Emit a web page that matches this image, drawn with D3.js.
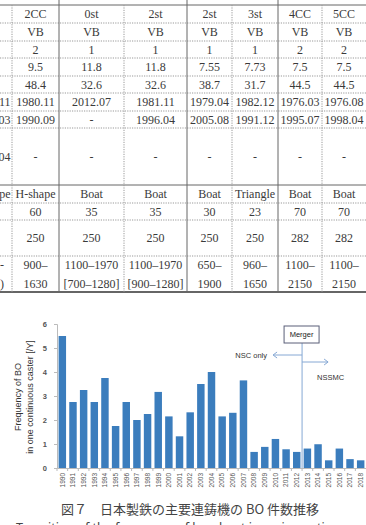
<!DOCTYPE html>
<html>
<head>
    <meta charset="utf-8" />
    <title>BO frequency</title>
    <style>
        body { margin: 0; background: #fff; }
        svg { display: block; }
    </style>
    <script src="https://cdn.jsdelivr.net/npm/d3@7"></script>
</head>
<body>
    <div id="svg"></div>

    <script type="text/javascript">
        // table (cropped page scan above the chart); left column only shows its last characters
        var tableLeftCol = ['', '', '', '', '', '11', '03', '04', 'pe', '', '', ['-', ')']];
        var tableRows = [
            ['2CC', '0st', '2st', '2st', '3st', '4CC', '5CC'],
            ['VB', 'VB', 'VB', 'VB', 'VB', 'VB', 'VB'],
            ['2', '1', '1', '1', '1', '2', '2'],
            ['9.5', '11.8', '11.8', '7.55', '7.73', '7.5', '7.5'],
            ['48.4', '32.6', '32.6', '38.7', '31.7', '44.5', '44.5'],
            ['1980.11', '2012.07', '1981.11', '1979.04', '1982.12', '1976.03', '1976.08'],
            ['1990.09', '-', '1996.04', '2005.08', '1991.12', '1995.07', '1998.04'],
            ['-', '-', '-', '-', '-', '-', '-'],
            ['H-shape', 'Boat', 'Boat', 'Boat', 'Triangle', 'Boat', 'Boat'],
            ['60', '35', '35', '30', '23', '70', '70'],
            ['250', '250', '250', '250', '250', '282', '282'],
            [['900–', '1630'], ['1100–1970', '[700–1280]'], ['1100–1970', '[900–1280]'],
             ['650–', '1900'], ['960–', '1650'], ['1100–', '2150'], ['1100–', '2150']]
        ];

        // chart data
        var years = ['1990', '1991', '1992', '1993', '1994', '1995', '1996', '1997', '1998', '1999',
                     '2000', '2001', '2002', '2003', '2004', '2005', '2006', '2007', '2008', '2009',
                     '2010', '2011', '2012', '2013', '2014', '2015', '2016', '2017', '2018'];
        var boFreq = [5.5, 2.75, 3.25, 2.75, 3.75, 1.75, 2.75, 2.0, 2.25, 3.17,
                      2.15, 1.32, 2.32, 3.5, 4.0, 2.15, 2.3, 3.65, 0.67, 0.88,
                      1.21, 0.78, 0.67, 0.81, 0.99, 0.32, 0.81, 0.37, 0.32];
        var yTicks = [0, 1, 2, 3, 4, 5, 6];
        var mergerYear = '2013';

        var width = 366,
            height = 525;

        var svg = d3.select('#svg')
            .append('svg')
            .attr('width', width)
            .attr('height', height);

        // ---------- table ----------
        var colEdges = [-60, 12, 59, 124, 187, 232, 278, 322, 366];
        var rowEdges = [5, 23, 41, 58, 76, 93, 111, 128, 185, 203, 220, 256, 292];
        var solidCols = [59, 187, 278];
        var solidRows = [5, 185];
        var serif = '"Liberation Serif", "DejaVu Serif", serif';

        var tbl = svg.append('g')
            .attr('font-family', serif)
            .attr('font-size', 12)
            .attr('fill', '#3a3a3a');

        // horizontal lines
        rowEdges.forEach(function(y, i) {
            var solid = solidRows.indexOf(y) >= 0;
            var last = i == rowEdges.length - 1;
            tbl.append('line')
                .attr('x1', 0).attr('x2', width)
                .attr('y1', y).attr('y2', y)
                .attr('stroke', solid || last ? '#666' : '#999')
                .attr('stroke-width', last ? 2 : 1)
                .attr('stroke-dasharray', solid || last ? null : '1.2,1.2');
        });
        // vertical lines
        colEdges.slice(1, -1).forEach(function(x) {
            var solid = solidCols.indexOf(x) >= 0;
            tbl.append('line')
                .attr('x1', x).attr('x2', x)
                .attr('y1', solid ? 0 : 5).attr('y2', 292)
                .attr('stroke', solid ? '#666' : '#999')
                .attr('stroke-dasharray', solid ? null : '1.2,1.2');
        });

        function cellText(x, yTop, yBot, val, anchor) {
            var lines = Array.isArray(val) ? val : [val];
            var mid = (yTop + yBot) / 2;
            lines.forEach(function(s, k) {
                var dy = lines.length == 1 ? 0 : (k == 0 ? -9.5 : 9.5);
                tbl.append('text')
                    .attr('x', x)
                    .attr('y', mid + dy)
                    .attr('dy', '0.35em')
                    .attr('text-anchor', anchor)
                    .text(s);
            });
        }

        tableRows.forEach(function(row, r) {
            row.forEach(function(val, c) {
                var cx = (colEdges[c + 1] + colEdges[c + 2]) / 2;
                cellText(cx, rowEdges[r], rowEdges[r + 1], val, 'middle');
            });
            if (tableLeftCol[r]) {
                // last row: only a sliver of the label is visible at the page edge
                var lx = r == tableRows.length - 1 ? 4 : 10.5;
                cellText(lx, rowEdges[r], rowEdges[r + 1], tableLeftCol[r], 'end');
            }
        });

        // ---------- bar chart ----------
        var sans = '"Liberation Sans", Arial, sans-serif';
        var chartTop = 324,
            chartBottom = 468,
            chartLeft = 57,
            chartRight = 366;

        var xScale = d3.scaleBand()
            .domain(years)
            .range([chartLeft, chartRight])
            .paddingInner(0.3)
            .paddingOuter(0.15);

        var yScale = d3.scaleLinear()
            .domain([0, 6])
            .range([chartBottom, chartTop]);

        svg.append('g')
            .selectAll('rect')
            .data(boFreq)
            .enter()
            .append('rect')
            .attr('x', (d, i) => xScale(years[i]))
            .attr('width', xScale.bandwidth())
            .attr('y', d => yScale(d))
            .attr('height', d => chartBottom - yScale(d))
            .attr('fill', '#3b7dbd');

        var yAxis = d3.axisLeft(yScale)
            .tickValues(yTicks)
            .tickFormat(d3.format('d'))
            .tickSize(3)
            .tickPadding(7);

        var gY = svg.append('g')
            .attr('transform', 'translate(' + chartLeft + ', 0)')
            .call(yAxis);
        gY.selectAll('path, line').attr('stroke', '#bbb');
        gY.selectAll('text')
            .attr('font-family', sans)
            .attr('font-size', 7.5)
            .attr('font-weight', 'bold')
            .attr('fill', '#555');

        var xAxis = d3.axisBottom(xScale)
            .tickSize(0)
            .tickPadding(4);

        var gX = svg.append('g')
            .attr('transform', 'translate(0, ' + chartBottom + ')')
            .call(xAxis);
        gX.select('.domain').attr('stroke', '#bbb');
        gX.selectAll('text')
            .attr('font-family', sans)
            .attr('font-size', 6.5)
            .attr('fill', '#555')
            .attr('text-anchor', 'end')
            .attr('transform', 'rotate(-90)')
            .attr('x', -5)
            .attr('y', 0)
            .attr('dy', '0.35em');

        // small tick marks between categories
        var step = xScale.step();
        gX.selectAll('.sep')
            .data(years)
            .enter()
            .append('line')
            .attr('x1', d => xScale(d) - step * xScale.paddingInner() / 2)
            .attr('x2', d => xScale(d) - step * xScale.paddingInner() / 2)
            .attr('y1', 0).attr('y2', 3)
            .attr('stroke', '#bbb');

        // y axis title
        var yTitle = svg.append('text')
            .attr('transform', 'translate(21, 397) rotate(-90)')
            .attr('text-anchor', 'middle')
            .attr('font-family', sans)
            .attr('font-size', 9)
            .attr('fill', '#333');
        yTitle.append('tspan').attr('x', 0).attr('y', 0).text('Frequency of BO');
        yTitle.append('tspan').attr('x', 0).attr('y', 11.5).text('in one continuous caster [/Y]');

        // merger annotation
        var mx = xScale(mergerYear) - step * xScale.paddingInner() / 2;
        var annColor = '#86a8d4';
        svg.append('line')
            .attr('x1', mx).attr('x2', mx)
            .attr('y1', 343).attr('y2', chartBottom)
            .attr('stroke', annColor);
        svg.append('rect')
            .attr('x', mx - 18).attr('y', 326)
            .attr('width', 35).attr('height', 17)
            .attr('fill', '#fff')
            .attr('stroke', '#5a5f78');
        svg.append('text')
            .attr('x', mx - 0.5).attr('y', 334.5)
            .attr('dy', '0.35em')
            .attr('text-anchor', 'middle')
            .attr('font-family', sans)
            .attr('font-size', 7.5)
            .attr('fill', '#222')
            .text('Merger');

        function arrow(x1, x2, y) {
            var dir = x2 > x1 ? 1 : -1;
            svg.append('line')
                .attr('x1', x1).attr('x2', x2)
                .attr('y1', y).attr('y2', y)
                .attr('stroke', annColor);
            svg.append('path')
                .attr('d', 'M' + (x2 - dir * 4) + ',' + (y - 3) + 'L' + x2 + ',' + y + 'L' + (x2 - dir * 4) + ',' + (y + 3))
                .attr('fill', 'none')
                .attr('stroke', annColor);
        }
        arrow(mx, mx - 29, 355);
        arrow(mx, mx + 26, 362);

        svg.append('text')
            .attr('x', 267).attr('y', 355)
            .attr('dy', '0.35em')
            .attr('text-anchor', 'end')
            .attr('font-family', sans)
            .attr('font-size', 7.5)
            .attr('fill', '#333')
            .text('NSC only');
        svg.append('text')
            .attr('x', 317).attr('y', 377)
            .attr('dy', '0.35em')
            .attr('font-family', sans)
            .attr('font-size', 7.5)
            .attr('fill', '#333')
            .text('NSSMC');

        // ---------- caption ----------
        svg.append('text')
            .attr('x', 190).attr('y', 514)
            .attr('text-anchor', 'middle')
            .attr('font-family', '"Noto Sans CJK JP", sans-serif')
            .attr('font-size', 13)
            .attr('fill', '#444')
            .text('図７　日本製鉄の主要連鋳機の BO 件数推移');
        // English caption line, cut by the bottom of the page
        svg.append('text')
            .attr('x', 16).attr('y', 532)
            .attr('font-family', '"Noto Sans", sans-serif')
            .attr('font-size', 12.5)
            .attr('fill', '#444')
            .text('Transition of the frequency of breakout in main continuous casters');
    </script>
</body>
</html>
